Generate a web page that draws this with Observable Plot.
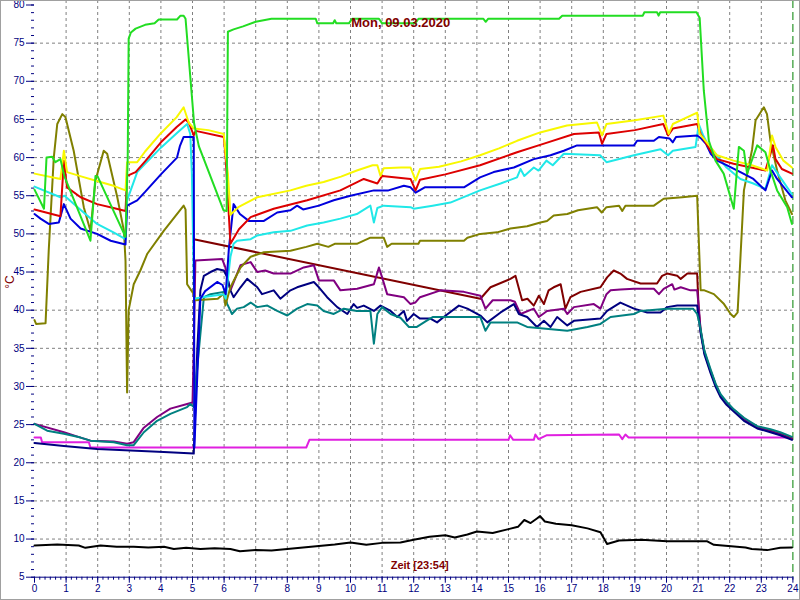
<!DOCTYPE html>
<html><head><meta charset="utf-8">
<script src="https://cdn.jsdelivr.net/npm/d3@7"></script>
<script src="https://cdn.jsdelivr.net/npm/@observablehq/plot@0.6"></script>
<style>
body{margin:0;background:#fff;}
#chart svg{display:block;outline:1px solid #a0a0a0;outline-offset:-1px;}
</style></head><body><div id="chart"></div>
<script>
const title = "Mon, 09.03.2020";
const xTitle = "Zeit [23:54]";
const yTitle = "°C";
const xTickLabels = d3.range(0, 25);
const yTickLabels = d3.range(5, 81, 5);

const gruen = [[0,55.8],[0.3,53.3],[0.38,60.0],[0.56,60.1],[0.66,59.4],[0.82,59.8],[0.95,57.5],[1.77,49.1],[1.93,57.6],[2.0,57.5],[2.88,49.6],[2.95,60],[2.98,75.6],[3.05,76.4],[3.2,76.9],[3.5,77.4],[3.8,77.6],[3.93,78.1],[4.51,78.1],[4.62,78.6],[4.72,78.6],[4.78,78.2],[5.05,64.5],[5.2,61.5],[5.98,53.1],[6.08,53],[6.12,76.5],[6.3,76.8],[6.6,77.2],[7.0,77.8],[7.5,78.2],[8.9,78.2],[8.95,77.6],[9.45,77.6],[9.5,78.0],[9.55,77.6],[9.95,77.6],[10.05,78.2],[10.9,78.2],[11.0,77.6],[12.05,77.6],[12.15,78.2],[14.2,78.2],[14.28,77.8],[14.36,78.2],[16.6,78.2],[16.7,78.6],[19.25,78.6],[19.3,79.05],[19.7,79.05],[19.75,78.6],[19.8,79.05],[20.95,79.05],[21.05,78.3],[21.18,68.8],[21.34,62.2],[21.55,59.6],[21.81,57.9],[22.13,53.3],[22.29,61.4],[22.45,60.9],[22.55,57.9],[22.87,61.6],[23.13,60.7],[23.29,58.3],[23.5,55.7],[23.82,53.5],[23.97,51.3]];

const gelb = [[0,57.9],[0.82,57.2],[0.93,60.9],[1.03,58.1],[1.5,57.5],[2.0,56.9],[2.5,56.3],[2.88,55.7],[2.93,59.4],[3.25,59.4],[3.5,60.8],[4.0,63.2],[4.5,65.3],[4.72,66.6],[4.88,64.6],[5.04,63.8],[5.5,63.6],[5.99,63.1],[6.04,60.9],[6.12,57.9],[6.2,52.5],[6.45,53.5],[7.05,54.8],[8.1,55.7],[8.6,56.3],[9.15,56.8],[9.7,57.5],[10.2,58.3],[10.7,59.0],[10.85,59.0],[10.95,57.6],[11.05,58.6],[11.6,58.7],[11.9,58.7],[12.06,57.0],[12.2,58.5],[12.8,58.8],[13.5,59.5],[14.1,60.3],[14.7,61.2],[15.27,62.2],[16.0,63.3],[16.85,64.2],[17.8,64.6],[17.96,62.9],[18.1,64.4],[19.0,64.9],[19.9,65.5],[20.07,63.1],[20.2,64.4],[20.97,65.9],[21.05,63.1],[21.39,61.4],[21.6,60.3],[22.12,59.6],[22.7,59.0],[23.19,58.3],[23.34,62.9],[23.45,61.4],[23.7,59.6],[23.97,58.7]];

const rot = [[0,53.2],[0.82,52.3],[0.93,59.6],[1.03,56.1],[1.46,54.8],[1.98,53.9],[2.5,53.4],[2.88,53.0],[2.93,57.6],[3.2,58.1],[3.5,59.5],[4.0,62],[4.5,64],[4.78,65.0],[4.88,64.6],[5.04,62.9],[5.1,63.5],[5.99,62.7],[6.05,60],[6.2,48.7],[6.47,50.6],[6.84,52.2],[7.57,53.3],[8.63,54.4],[9.68,55.7],[10.42,57.2],[10.85,56.6],[11.0,57.6],[11.9,57.2],[12.06,55.7],[12.2,57.1],[13,57.8],[14.1,59.0],[15.27,60.7],[16.1,61.8],[17.07,63.1],[17.86,63.3],[17.96,61.8],[18.1,63.1],[19,63.6],[19.9,64.4],[20.05,62.9],[20.2,63.8],[20.97,64.4],[21.08,63.1],[21.39,60.9],[21.6,59.8],[22.12,59.2],[23.13,58.3],[23.37,61.6],[23.45,59.8],[23.65,58.5],[23.97,57.9]];

const blau = [[0,52.6],[0.19,52.0],[0.45,51.3],[0.77,51.5],[0.93,53.9],[1.14,52.0],[1.46,50.7],[1.98,50.0],[2.41,49.1],[2.88,48.6],[2.93,53.7],[3.25,54.4],[3.5,55.5],[4.0,57.8],[4.51,60.0],[4.6,61.5],[4.72,62.7],[5.04,62.7],[5.06,22.0],[5.25,41.5],[5.4,42.5],[5.78,43.7],[5.95,43.3],[6.05,42.1],[6.15,48],[6.3,53.9],[6.5,52.6],[6.78,51.7],[7.26,51.7],[7.68,52.8],[8.1,53.1],[8.31,53.7],[8.5,53.2],[9.0,53.7],[9.47,54.4],[10,55.0],[10.74,55.7],[11.2,55.7],[11.69,56.3],[11.9,56.1],[12.06,55.4],[12.35,56.1],[13.59,56.1],[14.1,57.4],[14.53,58.1],[15.17,58.7],[15.8,59.8],[16.33,60.3],[16.75,60.9],[17.17,61.6],[18.97,61.6],[19.07,62.2],[19.6,62.2],[19.76,62.7],[20.1,62.5],[20.2,62.0],[20.3,62.7],[20.97,62.9],[21.1,62.5],[21.25,61.8],[21.4,60.5],[21.6,59.6],[21.9,59.0],[22.34,58.1],[22.75,57.2],[23.13,55.7],[23.34,58.3],[23.5,57.2],[23.97,54.8]];

const tuerkis = [[0,56.2],[0.82,54.8],[0.95,55.0],[1.5,53],[1.98,51.3],[2.5,50.2],[2.88,49.3],[2.93,54.4],[3.25,58.1],[3.5,59.2],[4,61.3],[4.5,63.2],[4.83,64.4],[4.93,63.1],[4.98,58],[5.05,41.5],[5.3,41.7],[5.99,42.1],[6.05,41.5],[6.2,47],[6.3,48.7],[6.41,49.1],[6.84,49.3],[7.05,49.8],[7.57,50.2],[8.1,50.4],[8.63,51.1],[9.15,51.5],[9.68,52.0],[10.2,52.6],[10.63,53.7],[10.74,51.5],[10.85,53.4],[11.05,53.7],[11.9,53.5],[12.0,53.3],[12.6,53.7],[13.16,54.1],[14.1,55.7],[14.75,56.6],[15.27,57.4],[15.38,58.5],[15.5,57.6],[15.8,58.7],[15.95,58.3],[16.2,59.6],[16.4,59.0],[16.75,60.5],[17.9,60.3],[18.1,59.4],[18.97,60.3],[19.81,61.1],[20.05,60.3],[20.2,60.9],[20.92,61.4],[21.02,64.4],[21.15,63],[21.3,61.8],[21.55,60.5],[21.9,58.7],[22.34,57.2],[22.75,56.6],[23.13,55.9],[23.34,59.0],[23.6,57.4],[23.97,55.2]];

const oliv = [[0,38.7],[0.05,38.2],[0.35,38.3],[0.45,47.8],[0.61,60.0],[0.72,64.4],[0.88,65.7],[0.98,65.3],[1.24,60.9],[1.56,53.5],[1.77,50.4],[1.93,57.0],[2.19,60.9],[2.3,60.5],[2.62,54.8],[2.83,50.4],[2.88,46.5],[2.93,29.2],[2.98,40.0],[3.14,43.4],[3.35,45.2],[3.57,47.4],[4.09,50.4],[4.72,53.7],[4.78,53.2],[4.83,43.4],[5.04,42.1],[5.1,41.3],[5.8,41.5],[5.99,42.2],[6.04,40.6],[6.2,43],[6.52,45.6],[6.84,47.0],[7.26,47.6],[8.1,47.8],[8.6,48.3],[8.95,48.7],[9.3,48.3],[9.5,48.7],[10.2,48.7],[10.63,49.5],[11.05,49.5],[11.16,48.3],[11.3,48.7],[12.15,48.7],[12.2,49.1],[13.59,49.1],[13.7,49.5],[14.11,50],[14.64,50.2],[15.06,50.7],[15.59,51.0],[16.01,51.5],[16.22,51.7],[16.43,52.4],[16.86,52.6],[17.2,53.1],[17.8,53.5],[17.95,52.8],[18.1,53.5],[18.5,53.7],[18.6,53.0],[18.7,53.7],[19.6,53.7],[19.91,54.6],[20.5,54.8],[20.97,55.0],[21.08,42.6],[21.2,42.6],[21.5,42.1],[21.82,40.8],[22.03,39.5],[22.13,39.1],[22.25,39.7],[22.45,55.7],[22.71,61.1],[22.82,64.9],[23.08,66.6],[23.18,65.7],[23.29,62.2],[23.5,58.3],[23.76,54.4],[23.97,52.6]];

const braun = [[5.04,49.3],[14.11,41.5],[14.43,43.0],[15.06,44.1],[15.22,44.5],[15.43,41.3],[15.6,41.5],[15.8,40.6],[15.96,41.9],[16.12,40.8],[16.27,42.6],[16.43,43.0],[16.65,43.4],[16.75,41.3],[16.8,40.2],[16.96,41.7],[17.28,42.4],[17.91,43.0],[18.12,44.3],[18.33,45.2],[18.54,44.8],[18.75,44.1],[19.18,43.5],[19.7,43.5],[19.86,44.5],[20.02,44.8],[20.34,44.5],[20.45,44.1],[20.66,44.8],[20.97,44.8],[21.02,40],[21.08,37.3],[21.2,34.5],[21.39,32.1],[21.55,30.3],[21.71,28.8],[21.9,27.8],[22.13,26.9],[22.45,25.8],[22.87,24.7],[23.29,24.2],[23.6,23.8],[23.97,23.2]];

const violett = [[0,25.1],[0.93,24.0],[1.46,23.3],[1.77,22.9],[2.51,22.8],[2.93,22.5],[3.14,22.7],[3.46,24.6],[3.88,26.0],[4.3,27.1],[4.83,27.7],[5.0,27.9],[5.04,34.7],[5.09,46.5],[5.94,46.7],[6.04,45.6],[6.1,44.3],[6.2,42.6],[6.52,45.9],[6.84,46.3],[7.05,45.0],[7.3,45.2],[7.57,44.8],[8.1,44.8],[8.52,45.6],[8.84,45.9],[9.0,43.9],[9.47,43.9],[9.68,42.6],[10.21,42.8],[10.74,43.4],[10.9,45.6],[11.0,44.3],[11.16,42.1],[11.69,41.7],[11.9,40.8],[12.05,41.0],[12.2,41.7],[12.85,42.6],[13.59,42.4],[14.11,41.9],[14.27,40.2],[14.5,41.3],[15.06,41.3],[15.2,41.1],[15.38,39.5],[15.8,40.2],[15.96,39.1],[16.22,39.9],[16.75,40.2],[16.86,39.5],[17.07,40.4],[17.7,40.8],[17.91,40.2],[18.1,42.1],[18.23,42.6],[18.54,42.7],[18.97,42.8],[19.6,42.8],[19.76,42.1],[19.91,42.8],[20.18,43.4],[20.25,42.7],[20.45,43.0],[20.76,42.6],[20.97,42.6],[21.03,40],[21.08,37.3],[21.2,34.4],[21.39,32.0],[21.55,30.2],[21.71,28.8],[21.9,27.8],[22.13,26.8],[22.45,25.7],[22.87,24.6],[23.29,24.1],[23.6,23.7],[23.97,23.1]];

const marine = [[0,22.6],[0.93,22.2],[1.98,21.8],[3.04,21.6],[4.09,21.4],[5.04,21.2],[5.15,34.7],[5.25,42.6],[5.36,44.5],[5.57,45.0],[5.78,45.4],[5.99,45.2],[6.1,44.3],[6.2,42.6],[6.3,41.7],[6.52,43.0],[6.73,44.1],[7.05,43.0],[7.2,42.1],[7.57,42.6],[7.78,41.5],[8.1,42.6],[8.31,43.0],[8.84,43.7],[9.0,43.0],[9.26,41.7],[9.58,40.4],[9.9,39.5],[10.1,40.8],[10.21,40.3],[10.42,40.6],[10.74,39.9],[10.95,40.6],[11.27,39.9],[11.48,39.1],[11.69,39.9],[11.79,38.6],[12.0,39.5],[12.2,38.9],[12.53,38.9],[12.74,38.4],[12.95,39.1],[13.43,40.6],[13.7,40.2],[14.11,39.3],[14.33,38.4],[14.75,39.7],[15.17,40.8],[15.33,39.5],[15.59,39.1],[15.9,37.8],[16.12,38.6],[16.33,37.8],[16.54,39.1],[16.86,38.0],[17.07,38.6],[17.91,38.9],[18.12,39.9],[18.54,41.0],[18.97,40.2],[19.39,39.7],[19.81,39.7],[20.02,40.4],[20.34,40.6],[20.97,40.6],[21.05,38],[21.08,37.0],[21.2,34.2],[21.39,31.8],[21.55,30.0],[21.71,28.6],[21.9,27.6],[22.13,26.7],[22.45,25.5],[22.87,24.5],[23.29,24.0],[23.6,23.6],[23.97,23.0]];

const petrol = [[0,25.1],[0.4,24.2],[0.93,23.8],[1.46,23.3],[1.77,22.9],[2.51,22.7],[2.93,22.3],[3.14,22.3],[3.46,24.0],[3.88,25.5],[4.3,26.4],[4.83,27.3],[4.93,27.7],[5.04,27.3],[5.2,34.7],[5.36,41.7],[5.57,42.1],[5.99,42.4],[6.1,40.8],[6.25,39.5],[6.41,40.2],[6.62,40.4],[6.84,41.0],[7.05,40.4],[7.37,40.6],[7.68,39.9],[8.0,39.3],[8.31,40.2],[8.63,40.8],[8.95,40.6],[9.15,39.9],[9.47,39.5],[9.79,40.2],[10.2,39.9],[10.63,39.9],[10.74,35.6],[10.85,39.5],[11.0,40.4],[11.27,39.5],[11.58,39.0],[11.85,37.8],[12.1,37.8],[12.4,38.6],[12.6,39.1],[13.59,39.1],[14.11,39.1],[14.27,37.3],[14.43,38.4],[15.27,38.4],[15.59,37.8],[16.86,37.3],[17.5,37.8],[17.91,38.2],[18.23,39.1],[18.97,39.5],[19.18,39.9],[20.02,40.2],[20.84,40.2],[20.97,39.5],[21.03,38.5],[21.08,37.5],[21.2,34.7],[21.39,32.3],[21.55,30.4],[21.71,29.0],[21.9,28.0],[22.13,27.0],[22.45,25.9],[22.87,24.8],[23.29,24.4],[23.6,24.0],[23.97,23.4]];

const magenta = [[0,23.3],[0.2,23.3],[0.24,22.7],[1.72,22.7],[1.77,22.0],[8.6,22.0],[8.7,23.0],[15.0,23.0],[15.05,23.6],[15.15,23.0],[15.8,23.0],[15.85,23.7],[15.95,23.1],[16.2,23.6],[18.5,23.7],[18.6,23.1],[18.7,23.7],[18.8,23.3],[23.97,23.3]];

const schwarz = [[0,9.15],[0.72,9.3],[1.4,9.15],[1.61,8.85],[2.09,9.15],[2.6,9.0],[3.14,9.0],[3.6,8.9],[4.1,9.0],[4.41,8.7],[4.8,8.85],[5.25,8.7],[5.7,8.8],[6.2,8.7],[6.5,8.4],[7.0,8.55],[7.5,8.5],[8.0,8.7],[8.5,8.9],[9.0,9.1],[9.5,9.3],[10,9.55],[10.5,9.25],[11.0,9.5],[11.58,9.55],[12.0,9.9],[12.5,10.3],[13.0,10.5],[13.3,10.2],[13.7,10.6],[14.0,11.0],[14.5,10.8],[15.0,11.3],[15.3,11.6],[15.5,12.5],[15.7,12.1],[15.9,12.7],[16.0,13.0],[16.15,12.3],[16.5,12.0],[17.0,11.8],[17.5,11.4],[17.91,10.9],[18.12,9.35],[18.5,9.8],[19.2,9.9],[20.02,9.7],[21.29,9.7],[21.5,9.25],[22.5,8.9],[22.7,8.7],[23.19,8.55],[23.6,8.85],[23.97,8.9]];

const seriesList = [
  {data: schwarz, color: "#000000"},
  {data: magenta, color: "#e020e0"},
  {data: braun, color: "#800000"},
  {data: violett, color: "#800080"},
  {data: marine, color: "#000080"},
  {data: petrol, color: "#008080"},
  {data: oliv, color: "#808000"},
  {data: tuerkis, color: "#20e8e8"},
  {data: blau, color: "#0000dd"},
  {data: rot, color: "#dd0000"},
  {data: gelb, color: "#f8f800"},
  {data: gruen, color: "#22dd22"}
];

const lines = seriesList.map(s => Plot.line(s.data, {x: d => d[0], y: d => d[1], stroke: s.color, strokeWidth: 2, curve: "linear"}));

const plot = Plot.plot({
  width: 800, height: 600,
  marginLeft: 34, marginRight: 7.6, marginTop: 0, marginBottom: 23.3,
  x: {domain: [0, 24]},
  y: {domain: [5, 80.59]},
  style: {fontFamily: "'Liberation Sans', Arial, sans-serif", fontSize: "10px", background: "white", overflow: "visible"},
  marks: [
    Plot.gridX(d3.range(1, 24), {stroke: "#808080", strokeOpacity: 1, strokeDasharray: "3,3"}),
    Plot.gridY(d3.range(10, 80, 5), {stroke: "#808080", strokeOpacity: 1, strokeDasharray: "3,3"}),
    Plot.ruleX([24], {stroke: "#008000", strokeDasharray: "8,4", strokeWidth: 1}),
    ...lines,
    Plot.axisY(yTickLabels, {tickSize: 8, tickPadding: 2, color: "#000080", label: null}),
    Plot.axisY(d3.range(5, 81, 1), {tickSize: 3, text: null, stroke: "#000080", label: null}),
    Plot.axisX(xTickLabels, {tickSize: 6, tickPadding: 2, color: "#000080", label: null}),
    Plot.axisX(d3.range(0, 145).map(i => i / 6), {tickSize: 3, text: null, stroke: "#000080", label: null}),
    Plot.ruleY([5], {stroke: "#000080"}),
    Plot.text([title], {frameAnchor: "top", dy: 17, dx: -13, fill: "#800000", fontWeight: "bold", fontSize: 13}),
    Plot.text([xTitle], {frameAnchor: "bottom", dy: -8, dx: 6, fill: "#800000", fontWeight: "bold", fontSize: 11}),
    Plot.text([yTitle], {frameAnchor: "left", dx: -24, rotate: -90, fill: "#800000", fontSize: 12})
  ]
});
document.getElementById("chart").append(plot);
</script></body></html>
